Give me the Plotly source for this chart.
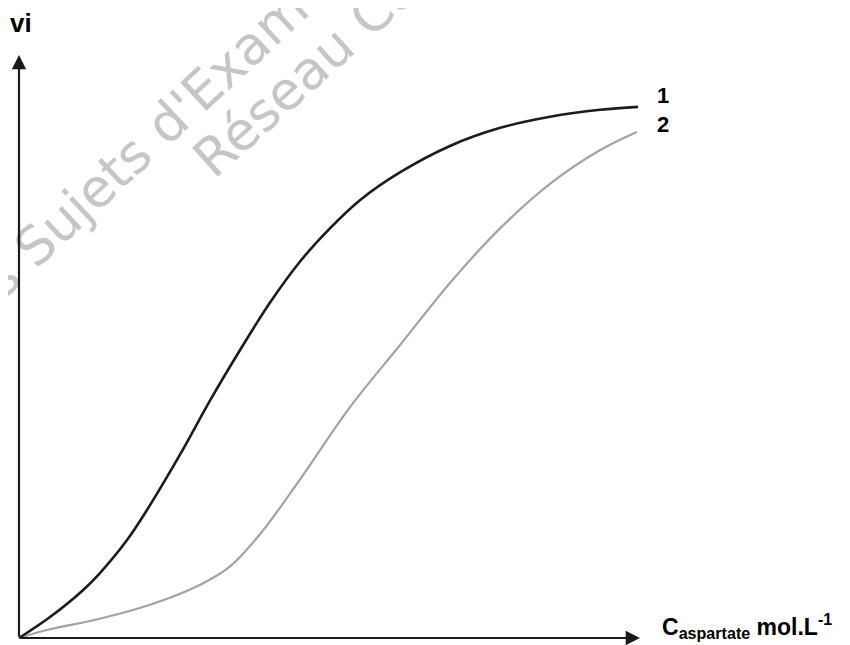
import plotly.graph_objects as go

# Curve 1 (black) : vi as a function of aspartate concentration
conc_1 = [0.0, 0.50, 1.03, 1.30, 1.74, 2.11, 2.59, 3.08, 3.56, 4.04, 4.52, 5.01, 5.49, 6.14, 6.94, 7.75, 8.55, 9.36, 9.97]
vi_1 = [0.0, 0.36, 0.82, 1.11, 1.68, 2.28, 3.14, 4.08, 4.94, 5.75, 6.45, 7.03, 7.51, 7.99, 8.44, 8.75, 8.94, 9.06, 9.11]

# Curve 2 (grey)
conc_2 = [0.0, 0.50, 1.30, 2.11, 2.91, 3.40, 3.88, 4.52, 5.33, 6.14, 6.94, 7.75, 8.55, 9.36, 9.95]
vi_2 = [0.0, 0.15, 0.33, 0.57, 0.91, 1.23, 1.78, 2.71, 3.96, 5.03, 6.09, 7.03, 7.79, 8.37, 8.68]

curve_labels = ["1", "2"]
x_axis_label = "<b>C<sub>aspartate</sub> mol.L<sup>-1</sup></b>"
y_axis_label = "<b>vi</b>"
watermark = ["des Sujets d'Examens", "Réseau Canopé"]

fig = go.Figure()
fig.add_trace(go.Scatter(x=conc_2, y=vi_2, mode="lines",
                         line=dict(color="#a3a3a3", width=2.2, shape="spline", smoothing=1.0),
                         hoverinfo="skip"))
fig.add_trace(go.Scatter(x=conc_1, y=vi_1, mode="lines",
                         line=dict(color="#1c1c1c", width=2.6, shape="spline", smoothing=1.0),
                         hoverinfo="skip"))

ann = []
# watermark
ann.append(dict(x=2.19, y=8.66, text=watermark[0], showarrow=False, textangle=-43,
                font=dict(family="DejaVu Sans", size=53, color="#c6c6c6"),
                xanchor="center", yanchor="middle"))
ann.append(dict(x=5.41, y=10.45, text=watermark[1], showarrow=False, textangle=-42,
                font=dict(family="DejaVu Sans", size=53, color="#c6c6c6"),
                xanchor="center", yanchor="middle"))
# axes arrows
ann.append(dict(x=0, y=10.0, ax=0, ay=0, xref="x", yref="y", axref="x", ayref="y",
                text="", showarrow=True, arrowhead=2, arrowsize=1.3, arrowwidth=2.2,
                arrowcolor="#1a1a1a", standoff=0, startstandoff=0))
ann.append(dict(x=10.0, y=0, ax=0, ay=0, xref="x", yref="y", axref="x", ayref="y",
                text="", showarrow=True, arrowhead=2, arrowsize=1.3, arrowwidth=2.2,
                arrowcolor="#1a1a1a", standoff=0, startstandoff=0))
# labels
ann.append(dict(x=0.03, y=10.55, text=y_axis_label, showarrow=False,
                font=dict(family="Liberation Sans", size=26, color="#000"),
                xanchor="center", yanchor="middle"))
ann.append(dict(x=10.37, y=9.31, text="<b>" + curve_labels[0] + "</b>", showarrow=False,
                font=dict(family="Liberation Sans", size=22, color="#000"),
                xanchor="center", yanchor="middle"))
ann.append(dict(x=10.37, y=8.80, text="<b>" + curve_labels[1] + "</b>", showarrow=False,
                font=dict(family="Liberation Sans", size=22, color="#000"),
                xanchor="center", yanchor="middle"))
ann.append(dict(x=10.33, y=0.2, text=x_axis_label, showarrow=False,
                font=dict(family="Liberation Sans", size=23, color="#000"),
                xanchor="left", yanchor="middle"))

# the page adds an 8 px body margin, so the figure is 8 px smaller than the window
fig.update_layout(
    width=842, height=637,
    margin=dict(l=0, r=0, t=0, b=0),
    paper_bgcolor="white", plot_bgcolor="white",
    showlegend=False,
    annotations=ann,
    xaxis=dict(range=[-0.177, 13.382], visible=False, fixedrange=True),
    yaxis=dict(range=[-0.120, 10.806], visible=False, fixedrange=True),
)
fig.write_html("out.html")
